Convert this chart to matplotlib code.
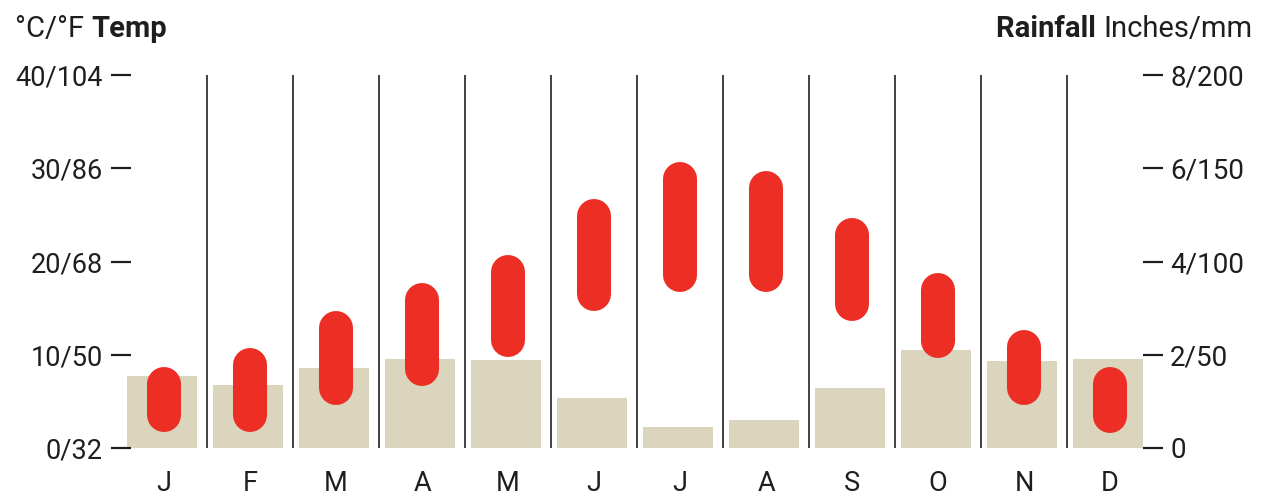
import numpy as np
import matplotlib
matplotlib.use("Agg")
import matplotlib.pyplot as plt

plt.rcParams["font.family"] = ["Roboto", "DejaVu Sans"]

# --- data ---
months = ["J", "F", "M", "A", "M", "J", "J", "A", "S", "O", "N", "D"]
temp_low = [3.5, 3.5, 6.4, 8.5, 11.6, 16.5, 18.6, 18.6, 15.4, 11.5, 6.4, 3.4]      # °C
temp_high = [6.9, 8.9, 12.9, 15.9, 18.9, 24.9, 28.9, 27.9, 22.8, 16.9, 10.8, 6.9]  # °C
rain = [1.55, 1.35, 1.71, 1.90, 1.89, 1.08, 0.44, 0.59, 1.28, 2.10, 1.87, 1.91]    # inches

temp_ticks = [0, 10, 20, 30, 40]
temp_labels = ["0/32", "10/50", "20/68", "30/86", "40/104"]
rain_ticks = [0, 2, 4, 6, 8]
rain_labels = ["0", "2/50", "4/100", "6/150", "8/200"]

RED = "#ec2e24"
BEIGE = "#dbd5bd"
INK = "#1e1e1e"

W, H = 1266, 496
fig = plt.figure(figsize=(W / 100, H / 100), dpi=100)
ax = fig.add_axes([121 / W, 48 / H, (1153 - 121) / W, (448 - 75) / H])
ax2 = ax.twinx()
ax.set_zorder(ax2.get_zorder() + 1)
ax.patch.set_visible(False)

x = np.arange(len(months))

# rainfall bars (right axis)
ax2.bar(x - 0.02, rain, width=0.81, color=BEIGE, linewidth=0)
ax2.set_ylim(0, 8)

# month separators
for i in range(len(months) - 1):
    ax.axvline(i + 0.5, color="#333333", lw=1.3, zorder=1)

# temperature capsules
ax.vlines(x, temp_low, temp_high, colors=RED, linewidth=24.5,
          capstyle="round", zorder=3)
ax.set_ylim(0, 40)
ax.set_xlim(-0.5, len(months) - 0.5)

for a in (ax, ax2):
    for s in a.spines.values():
        s.set_visible(False)

ax.set_yticks(temp_ticks)
ax.set_yticklabels(temp_labels)
ax2.set_yticks(rain_ticks)
ax2.set_yticklabels(rain_labels)
ax.tick_params(axis="y", direction="inout", length=14.5, width=1.6, color=INK,
               labelsize=19.5, labelcolor=INK, pad=6)
ax2.tick_params(axis="y", direction="inout", length=14.5, width=1.6, color=INK,
                labelsize=20, labelcolor=INK, pad=5)
ax.set_xticks(x)
ax.set_xticklabels(months)
ax.tick_params(axis="x", length=0, labelsize=19.5, labelcolor=INK, pad=16)
ax2.tick_params(axis="x", length=0)

# headers
y_head = 1 - 37 / H
t1 = fig.text(15 / W, y_head, "°C/°F ", fontsize=21, color=INK, va="baseline")
ax.annotate("Temp", xy=(1, 0), xycoords=t1, fontsize=21, fontweight="bold",
            color=INK, va="bottom", annotation_clip=False)
t2 = fig.text(1252 / W, y_head, "Inches/mm", fontsize=21, color=INK,
              va="baseline", ha="right")
ax.annotate("Rainfall ", xy=(0, 0), xycoords=t2, fontsize=21, fontweight="bold",
            color=INK, va="bottom", ha="right", annotation_clip=False)

fig.savefig("out.png", dpi=100, facecolor="white")
